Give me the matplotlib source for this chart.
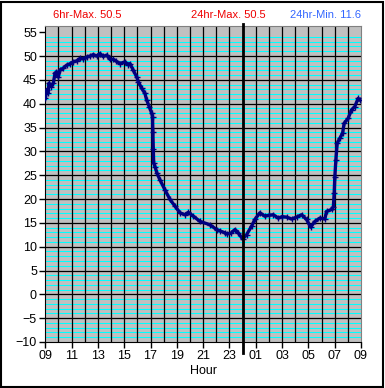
import numpy as np
import matplotlib.pyplot as plt
from matplotlib.patches import Rectangle

plt.rcParams["font.family"] = ["Liberation Sans", "DejaVu Sans"]

# Hours since 09:00 and temperature readings
hours = [0.00, 0.11, 0.20, 0.28, 0.45, 0.61, 0.74, 0.85, 0.99, 1.12, 1.35, 1.63,
         1.90, 2.13, 2.40, 2.64, 2.90, 3.15, 3.40, 3.65, 3.90, 4.16, 4.40, 4.67,
         4.92, 5.17, 5.40, 5.68, 6.06, 6.25, 6.44, 6.69, 6.95, 7.07, 7.33, 7.57,
         7.70, 7.90, 8.09, 8.15, 8.18, 8.21, 8.24, 8.34, 8.49, 8.72, 9.10, 9.48,
         9.86, 10.24, 10.62, 10.87, 11.25, 11.76, 12.51, 13.02, 13.28, 13.66, 13.78,
         14.10, 14.42, 14.67, 15.00, 15.30, 15.68, 15.93, 16.31, 16.69, 17.00, 17.33,
         17.71, 18.00, 18.34, 18.72, 19.10, 19.48, 19.86, 20.17, 20.50, 20.87, 21.25,
         21.38, 21.76, 21.90, 21.96, 22.01, 22.09, 22.19, 22.40, 22.60, 22.72, 23.02,
         23.28, 23.53, 23.78, 23.91]
temps = [41.1, 42.9, 42.2, 44.3, 43.6, 44.3, 46.4, 46.6, 45.6, 47.1, 47.4, 48.1,
         48.4, 48.8, 49.0, 49.5, 49.4, 49.8, 50.0, 50.3, 50.0, 50.5, 49.9, 50.2,
         49.3, 49.3, 48.9, 48.4, 48.8, 48.2, 48.4, 47.0, 45.6, 44.6, 43.2, 42.2,
         40.8, 39.4, 38.0, 37.3, 34.0, 30.5, 27.5, 26.8, 25.4, 24.0, 21.9, 19.9,
         18.5, 17.1, 16.7, 17.2, 16.4, 15.3, 14.6, 13.6, 13.3, 12.9, 12.7,
         12.8, 13.6, 12.9, 11.6, 12.5, 14.3, 15.7, 17.1, 16.4, 16.6, 16.7,
         16.0, 16.3, 16.2, 15.8, 16.2, 16.7, 15.7, 14.1, 15.3, 16.0, 15.8,
         17.4, 17.8, 18.4, 21.2, 24.7, 28.2, 31.7, 32.8, 33.8, 35.9, 36.9,
         38.7, 39.4, 41.1, 40.8]

hour_labels = ["09", "11", "13", "15", "17", "19", "21", "23", "01", "03", "05", "07", "09"]
y_ticks = list(range(-10, 60, 5))
midnight = 15

header_texts = ["6hr-Max. 50.5", "24hr-Max. 50.5", "24hr-Min. 11.6"]
header_colors = ["#ee0000", "#ee0000", "#3366ff"]
header_x = [87.5, 228, 326]

fig = plt.figure(figsize=(3.85, 3.88), dpi=100)
ax = fig.add_axes([45.3 / 385, 46 / 388, 315.7 / 385, 316.5 / 388])
ax.set_facecolor("#c0c0c0")

ax.set_xlim(0, 24)
ax.set_ylim(-10, 56.4)

# grid: cyan every degree, black every 5 degrees, black every hour
for v in range(-9, 56):
    if v % 5 != 0:
        ax.axhline(v, color="#00ffff", lw=0.75, zorder=1)
for v in range(-5, 55, 5):
    ax.axhline(v, color="black", lw=0.9, zorder=2)
for h in range(1, 24):
    ax.axvline(h, color="black", lw=0.9, zorder=2)

ax.plot(hours, temps, color="#000080", lw=2.4, marker="+", ms=4, mew=1, zorder=4)

# midnight marker running past the plot area
ax.plot([midnight, midnight], [-0.036, 1.006], color="black", lw=2,
        transform=ax.get_xaxis_transform(), clip_on=False, zorder=5)

ax.set_yticks(y_ticks)
ax.set_xticks(np.arange(0, 25, 2))
ax.set_xticklabels(hour_labels)
ax.tick_params(axis="both", direction="out", length=4, width=1, labelsize=9, pad=2)
ax.set_xlabel("Hour", fontsize=9, labelpad=2)

for side in ["left", "bottom"]:
    ax.spines[side].set_color("black")
for side in ["right", "top"]:
    ax.spines[side].set_color("#808080")

for txt, col, x in zip(header_texts, header_colors, header_x):
    fig.text(x / 385, 1 - 15 / 388, txt, color=col, fontsize=8, ha="center", va="center")

fig.patches.append(Rectangle((0.002, 0.002), 0.994, 0.994, transform=fig.transFigure,
                             fill=False, edgecolor="black", lw=1.5))

fig.savefig("out.png", dpi=100)
